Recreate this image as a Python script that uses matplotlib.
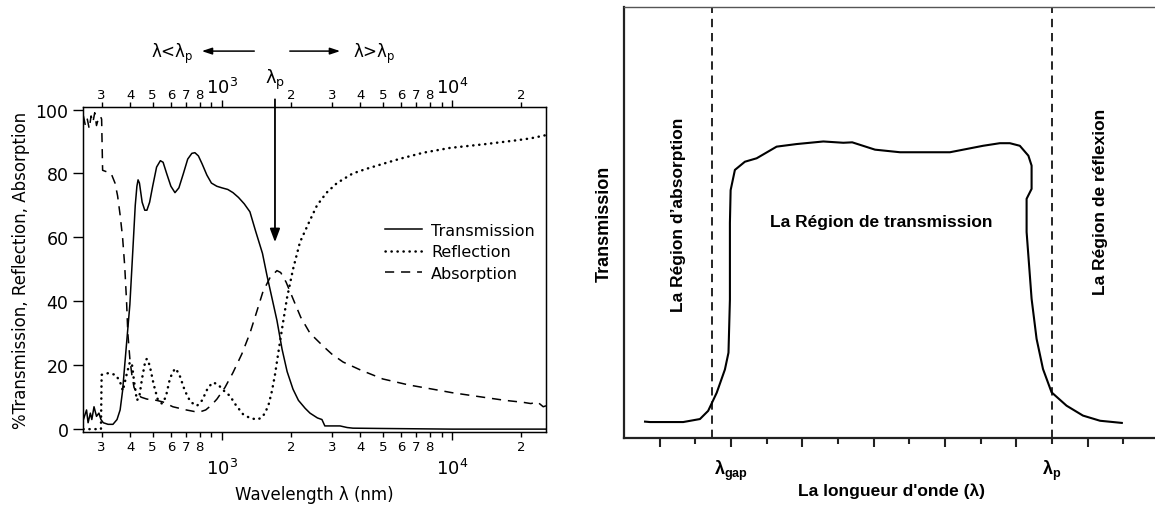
import matplotlib
matplotlib.use('Agg')
import matplotlib.pyplot as plt

plt.rcParams['font.family'] = ['DejaVu Sans']
plt.rcParams['mathtext.fontset'] = 'custom'
plt.rcParams['mathtext.rm'] = 'DejaVu Sans'
plt.rcParams['mathtext.it'] = 'DejaVu Sans:italic'
plt.rcParams['mathtext.bf'] = 'Liberation Sans:bold'

# --- panneau de gauche : spectres mesures (nm, %) ---
T_wl = [250, 258, 262, 268, 272, 278, 285, 292, 298, 305, 320, 336, 350, 361, 370, 378,
        398, 410, 420, 427, 432, 438, 450, 462, 472, 485, 500, 520, 540, 555, 575, 600,
        625, 650, 680, 710, 740, 763, 790, 820, 860, 900, 950, 1000, 1060, 1117, 1180,
        1250, 1323, 1400, 1500, 1570, 1650, 1734, 1825, 1920, 2036, 2150, 2300, 2414,
        2600, 2720, 2800, 3000, 3260, 3500, 3710, 5000, 10000, 25600]
T = [3, 6, 2, 5, 3, 7, 4, 5, 3, 2, 1.5, 1.5, 3, 6, 12, 20,
     39, 56, 70, 76, 78, 77, 71, 68.5, 68.5, 71, 76, 82, 84, 83.5, 80, 76,
     74, 75.5, 80, 84.5, 86.3, 86.5, 85.5, 83, 79.5, 77, 76, 75.5, 75, 74, 72.5,
     70.5, 68, 62, 55, 48, 41, 34, 25, 18, 12.5, 9, 6.5, 5,
     3.5, 3, 1, 1, 1, 0.5, 0.3, 0.2, 0, 0]

R_wl = [250, 298, 300, 320, 345, 360, 371, 385, 398, 406, 415, 427, 437, 450, 465, 472,
        485, 505, 525, 548, 570, 595, 625, 650, 690, 730, 779, 820, 870, 914, 960, 1020,
        1083, 1150, 1234, 1320, 1420, 1480, 1540, 1600, 1650, 1700, 1750, 1830, 1917,
        2036, 2183, 2400, 2588, 2850, 3162, 3700, 4266, 5000, 5940, 7500, 9800, 14000,
        19180, 22000, 25600]
R = [0, 0, 17, 17.5, 17, 15, 12, 17, 21, 20.5, 15, 9, 10, 16, 21.5, 22,
     20, 14, 9.5, 8, 10, 16, 19, 17.5, 12, 8.5, 7.3, 9, 13, 14.6, 14, 12,
     10.4, 7.5, 4.7, 3.5, 3, 3.5, 5, 8, 12, 17, 23, 32, 41,
     50, 58.5, 65, 70, 74, 77, 80, 81.5, 83, 84.6, 86.5, 88, 89.2,
     90.4, 91, 92]

A_wl = [250, 255, 260, 265, 270, 275, 280, 285, 290, 296, 300, 303, 330, 343, 352, 361,
        370, 378, 385, 390, 398, 406, 415, 427, 445, 472, 520, 554, 612, 700, 760, 802,
        850, 900, 951, 1030, 1117, 1220, 1323, 1420, 1507, 1620, 1734, 1800, 1900, 2036,
        2200, 2414, 2750, 3000, 3360, 4000, 5000, 6500, 8240, 10000, 13600, 17000, 20300,
        22000, 23500, 24900, 25600]
A = [98, 95, 97, 94, 98, 96, 99, 95, 97, 98, 97, 81, 80, 77, 73, 67,
     60, 51, 40, 30, 22, 17, 13, 11.5, 10, 9.4, 9, 8.5, 7, 6, 5.5, 5.4,
     6, 7.5, 9.4, 13, 17.7, 23.5, 30, 37, 43, 47.5, 49.6, 49, 46, 40.8,
     35, 30, 26, 23.5, 21, 18.5, 15.7, 13.8, 12.5, 11.4, 10, 9, 8.4,
     8, 8.5, 7, 7.3]

LAMBDA_P = 1700
minor_pos = [300, 400, 500, 600, 700, 800, 900, 2000, 3000, 4000, 5000, 6000, 7000,
             8000, 9000, 20000]
minor_lab = ['3', '4', '5', '6', '7', '8', '', '2', '3', '4', '5', '6', '7', '8', '', '2']
major_pos = [1000, 10000]
major_lab = ['$10^3$', '$10^4$']

# --- panneau de droite : schema ---
schema_x = [0.59, 0.73, 1.66, 2.13, 2.36, 2.6, 2.83, 2.93, 2.97, 2.97, 2.99, 3.11, 3.39,
            3.72, 4.28, 4.84, 5.59, 6.15, 6.4, 7.04, 7.74, 9.14, 10.07, 10.54, 10.82,
            11.1, 11.34, 11.43, 11.43, 11.29, 11.29, 11.43, 11.57, 11.75, 11.99, 12.41,
            12.87, 13.35, 13.96]
schema_y = [3.8, 3.7, 3.7, 4.4, 6.3, 10.5, 15.9, 19.8, 32.1, 49.9, 57.5, 62.2, 64.1,
            64.9, 67.6, 68.2, 68.8, 68.5, 68.6, 66.9, 66.3, 66.3, 67.8, 68.4, 68.4,
            67.8, 65.5, 63.2, 57.8, 55.5, 47.8, 32.3, 23, 16, 10.6, 7.5, 5.2, 4.0, 3.5]
x_gap = 2.47
x_p = 12.0

W, H = 1155, 506
fig = plt.figure(figsize=(W / 100, H / 100), dpi=100)

# ================= gauche =================
ax = fig.add_axes([83 / W, 73 / H, 463 / W, 325 / H])
ax.plot(T_wl, T, color='black', lw=1.1, label='Transmission')
ax.plot(R_wl, R, color='black', lw=1.8, linestyle=(0, (0.1, 2.3)),
        dash_capstyle='round', label='Reflection')
ax.plot(A_wl, A, color='black', lw=1.1, linestyle=(0, (6, 4.5)), label='Absorption')
ax.set_xscale('log')
ax.set_xlim(249, 25600)
ax.set_ylim(-0.9, 100.8)
ax.set_yticks([0, 20, 40, 60, 80, 100])
ax.tick_params(axis='y', labelsize=12.5, length=7, width=1, direction='out')
ax.set_xticks(major_pos, labels=major_lab)
ax.set_xticks(minor_pos, labels=minor_lab, minor=True)
ax.tick_params(axis='x', which='major', labelsize=13, length=6, width=1, pad=13)
ax.tick_params(axis='x', which='minor', labelsize=9.5, length=3.5, width=1, pad=2)
ax.set_xlabel('Wavelength λ (nm)', fontsize=12, labelpad=5)
ax.set_ylabel('%Transmission, Reflection, Absorption', fontsize=12, labelpad=4)
for s in ax.spines.values():
    s.set_linewidth(1)

ax.legend(loc='upper left', bbox_to_anchor=(0.652, 0.643), frameon=False, fontsize=11.5,
          handlelength=2.3, handletextpad=0.6, labelspacing=0.4, borderpad=0,
          borderaxespad=0)

top = ax.twiny()
top.set_xscale('log')
top.set_xlim(ax.get_xlim())
top.set_xticks(major_pos, labels=major_lab)
top.set_xticks(minor_pos, labels=minor_lab, minor=True)
top.tick_params(axis='x', which='major', labelsize=13, length=5, width=1, pad=2)
top.tick_params(axis='x', which='minor', labelsize=9.5, length=3.5, width=1, pad=0.5)

# fleche lambda_p
ax.annotate('', xy=(LAMBDA_P, 58.5), xytext=(LAMBDA_P, 103.2),
            arrowprops=dict(arrowstyle='-|>,head_length=0.8,head_width=0.3',
                            color='black', lw=1.3, shrinkA=0, shrinkB=0),
            annotation_clip=False)
trans = ax.get_xaxis_transform()
ax.text(LAMBDA_P, 1.05, 'λ$_\\mathrm{p}$', transform=trans, ha='center', va='bottom',
        fontsize=13)
ax.annotate('', xy=(LAMBDA_P / 2.08, 1.172), xycoords=trans,
            xytext=(LAMBDA_P / 1.23, 1.172), textcoords=trans,
            arrowprops=dict(arrowstyle='-|>,head_length=0.6,head_width=0.2',
                            color='black', lw=1.1, shrinkA=0, shrinkB=0))
ax.annotate('', xy=(LAMBDA_P * 1.92, 1.172), xycoords=trans,
            xytext=(LAMBDA_P * 1.16, 1.172), textcoords=trans,
            arrowprops=dict(arrowstyle='-|>,head_length=0.6,head_width=0.2',
                            color='black', lw=1.1, shrinkA=0, shrinkB=0))
ax.text(LAMBDA_P / 2.8, 1.165, 'λ<λ$_\\mathrm{p}$', transform=trans, ha='center',
        va='center', fontsize=12)
ax.text(LAMBDA_P * 2.7, 1.165, 'λ>λ$_\\mathrm{p}$', transform=trans, ha='center',
        va='center', fontsize=12)

# ================= droite =================
axr = fig.add_axes([624 / W, 67 / H, (1160 - 624) / W, 431 / H])
axr.plot(schema_x, schema_y, color='black', lw=1.5)
axr.axvline(x_gap, color='black', lw=1.2, linestyle=(0, (5, 3.5)))
axr.axvline(x_p, color='black', lw=1.2, linestyle=(0, (5, 3.5)))
axr.set_xlim(0, (1160 - 624) / 35.66)
axr.set_ylim(0, 100)
axr.set_yticks([])
axr.set_xticks([1, 3, 5, 7, 9, 11, 13], labels=[])
axr.set_xticks([2, 4, 6, 8, 10, 12, 14], minor=True)
axr.tick_params(axis='x', which='major', length=6.5, width=1.5, color='#222222')
axr.tick_params(axis='x', which='minor', length=4.5, width=1.5, color='#222222')
axr.spines['right'].set_visible(False)
axr.spines['left'].set_linewidth(1.6)
axr.spines['bottom'].set_linewidth(1.6)
axr.spines['left'].set_color('#222222')
axr.spines['bottom'].set_color('#222222')
axr.spines['top'].set_linewidth(1)
axr.spines['top'].set_color('#555555')

bold = dict(family=['Liberation Sans', 'DejaVu Sans'], weight='bold')
axr.set_ylabel('Transmission', fontsize=13, labelpad=8, **bold)
axr.set_xlabel("La longueur d'onde (λ)", fontsize=12.5, labelpad=22, **bold)
xt = axr.get_xaxis_transform()
axr.text(3, -0.045, 'λ$_\\mathbf{gap}$', transform=xt, ha='center', va='top',
         fontsize=13, **bold)
axr.text(x_p, -0.045, 'λ$_\\mathbf{p}$', transform=xt, ha='center', va='top',
         fontsize=13, **bold)
axr.text(7.2, 50.3, 'La Région de transmission', ha='center', va='center',
         fontsize=12.5, **bold)
axr.text(1.52, 52, 'La Région d’absorption', rotation=90, ha='center', va='center',
         fontsize=12.5, **bold)
axr.text(13.35, 55, 'La Région de réflexion', rotation=90, ha='center', va='center',
         fontsize=12.5, **bold)

fig.savefig('out.png', dpi=100)
